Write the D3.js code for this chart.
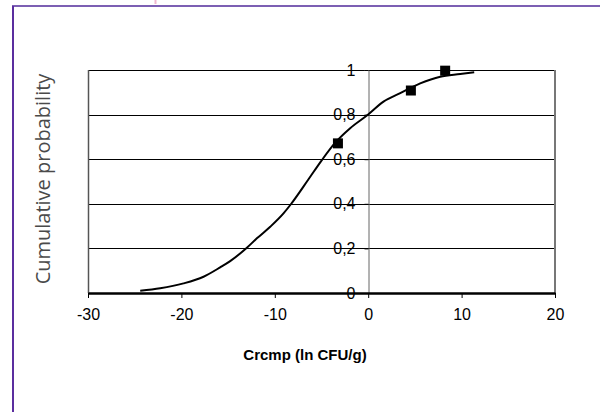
<!DOCTYPE html>
<html>
<head>
<meta charset="utf-8">
<script src="https://cdn.jsdelivr.net/npm/d3@7"></script>
<style>
  body { margin: 0; background: #fff; }
  svg { display: block; }
</style>
</head>
<body>
<div id="chart"></div>
<script>
// values
var curveX = [-24.41, -22.27, -19.77, -17.63, -15.85, -14.78, -12.99, -11.92, -10.49, -9.07, -8.28,
              -6.39, -4.96, -3.53, -1.93, -0.07, 1.64, 3.43, 5.57, 7.71, 9.85, 11.35];
var curveY = [0.010, 0.021, 0.043, 0.073, 0.115, 0.143, 0.203, 0.245, 0.297, 0.357, 0.398,
              0.510, 0.596, 0.674, 0.739, 0.798, 0.858, 0.896, 0.940, 0.970, 0.982, 0.990];
var obsX = [-3.24, 4.57, 8.24];
var obsY = [0.671, 0.908, 0.997];
var xTicks = [-30, -20, -10, 0, 10, 20];
var yTicks = [0, 0.2, 0.4, 0.6, 0.8, 1];

var width = 600, height = 412;
var margin = { top: 70, left: 88, right: 45, bottom: 119 };

var svg = d3.select("#chart")
    .append("svg")
    .attr("width", width)
    .attr("height", height);

// outer frame (only top and left edges are visible)
svg.append("line")
    .attr("x1", 12).attr("x2", width).attr("y1", 6).attr("y2", 6)
    .attr("stroke", "#7c5fb3").attr("stroke-width", 2);
svg.append("line")
    .attr("x1", 13).attr("x2", 13).attr("y1", 6).attr("y2", height)
    .attr("stroke", "#5b2e9f").attr("stroke-width", 2);
svg.append("line")
    .attr("x1", 155.5).attr("x2", 155.5).attr("y1", 0).attr("y2", 4)
    .attr("stroke", "#f0b8d0").attr("stroke-width", 2);

/*
SCALES
*/
var xScale = d3.scaleLinear()
    .domain([-30, 20])
    .range([margin.left, width - margin.right]);

var yScale = d3.scaleLinear()
    .domain([0, 1])
    .range([height - margin.bottom, margin.top]);

/*
GRID + PLOT BORDER
*/
svg.append("g")
    .selectAll("line")
    .data(yTicks.filter(function(d) { return d > 0; }))
    .enter()
    .append("line")
    .attr("x1", xScale(-30)).attr("x2", xScale(20))
    .attr("y1", function(d) { return Math.round(yScale(d)) + 0.5; })
    .attr("y2", function(d) { return Math.round(yScale(d)) + 0.5; })
    .attr("stroke", "#000")
    .attr("stroke-width", 1);

svg.append("line")
    .attr("x1", xScale(-30) + 0.5).attr("x2", xScale(-30) + 0.5)
    .attr("y1", yScale(1)).attr("y2", yScale(0))
    .attr("stroke", "#555").attr("stroke-width", 1.5);
svg.append("line")
    .attr("x1", xScale(20)).attr("x2", xScale(20))
    .attr("y1", yScale(1)).attr("y2", yScale(0))
    .attr("stroke", "#777").attr("stroke-width", 2);

/*
AXES
*/
var yAxis = svg.append("g")
    .attr("transform", "translate(" + (Math.round(xScale(0)) + 0.5) + ",0)")
    .call(d3.axisLeft(yScale)
        .tickValues(yTicks)
        .tickSize(4)
        .tickPadding(9)
        .tickFormat(function(d) { return String(+d.toFixed(1)).replace(".", ","); }));
yAxis.select(".domain").attr("stroke", "#666");
yAxis.selectAll(".tick line").attr("stroke", "#000");

var xAxis = svg.append("g")
    .attr("transform", "translate(0," + yScale(0) + ")")
    .call(d3.axisBottom(xScale)
        .tickValues(xTicks)
        .tickSize(5)
        .tickSizeOuter(0)
        .tickPadding(11)
        .tickFormat(function(d) { return String(d); }));
xAxis.select(".domain").attr("stroke", "#000").attr("stroke-width", 2.5);
xAxis.selectAll(".tick line").attr("stroke", "#000");

svg.selectAll(".tick text")
    .attr("fill", "#000")
    .style("font-family", "'Liberation Sans', Arial, sans-serif")
    .style("font-size", "16px");

/*
CURVE + OBSERVATIONS
*/
var line = d3.line()
    .x(function(d) { return xScale(d[0]); })
    .y(function(d) { return yScale(d[1]); })
    .curve(d3.curveMonotoneX);

svg.append("path")
    .datum(d3.zip(curveX, curveY))
    .attr("d", line)
    .attr("fill", "none")
    .attr("stroke", "#000")
    .attr("stroke-width", 2);

svg.append("g")
    .selectAll("rect")
    .data(d3.zip(obsX, obsY))
    .enter()
    .append("rect")
    .attr("x", function(d) { return xScale(d[0]) - 5; })
    .attr("y", function(d) { return yScale(d[1]) - 5; })
    .attr("width", 10)
    .attr("height", 10)
    .attr("fill", "#000");

/*
AXIS LABELS
*/
svg.append("text")
    .attr("x", 305)
    .attr("y", 360)
    .attr("text-anchor", "middle")
    .style("font-family", "'Liberation Sans', Arial, sans-serif")
    .style("font-weight", "bold")
    .style("font-size", "15px")
    .text("Crcmp (ln CFU/g)");

svg.append("text")
    .attr("transform", "translate(50,179) rotate(-90)")
    .attr("text-anchor", "middle")
    .style("font-family", "'Open Sans', sans-serif")
    .style("font-weight", 400)
    .style("font-size", "20px")
    .style("fill", "#4a4a4a")
    .text("Cumulative probability");
</script>
</body>
</html>
